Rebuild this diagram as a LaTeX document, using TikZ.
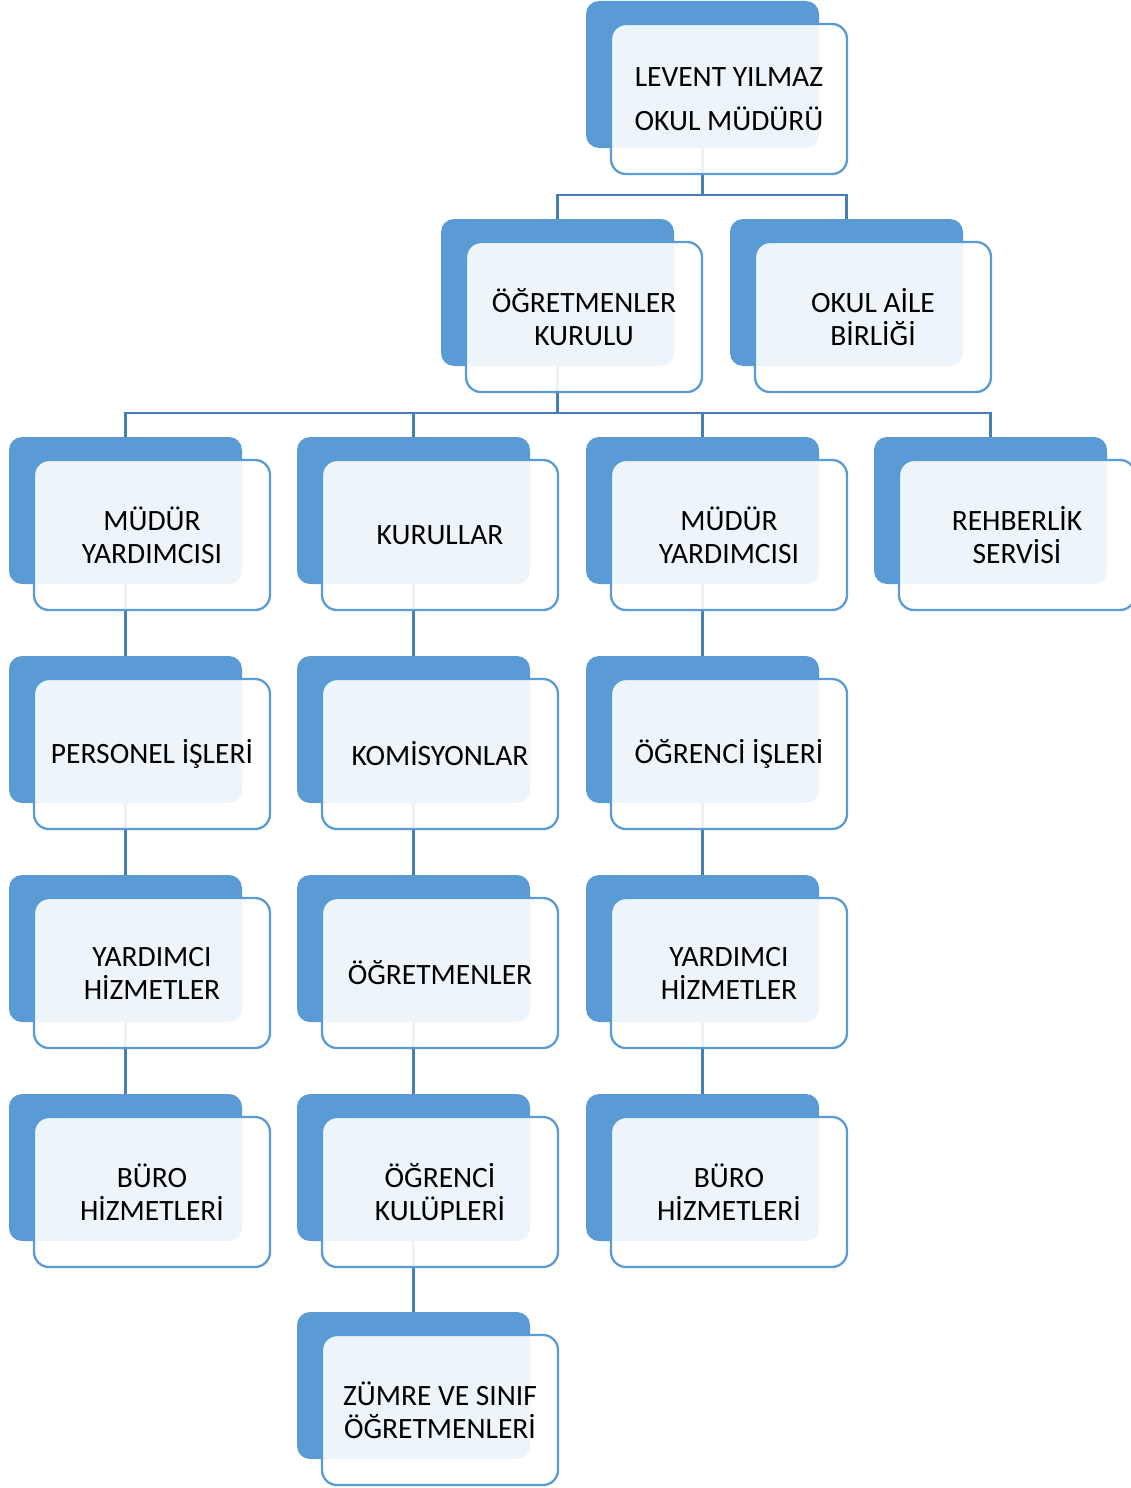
\documentclass[tikz,border=0pt]{standalone}
\usepackage{fontspec}
\setmainfont{Carlito}
\definecolor{accent}{RGB}{91,155,213}
\definecolor{connc}{RGB}{71,126,184}
\tikzset{
  bluebox/.style={rectangle, rounded corners=13pt, fill=accent, draw=none,
    minimum width=233pt, minimum height=147pt, inner sep=0pt, outer sep=0pt, anchor=north west},
  frontbox/.style={rectangle, rounded corners=15pt, fill=white, fill opacity=0.9, text opacity=1,
    draw=accent, draw opacity=1, line width=2.3pt,
    minimum width=236pt, minimum height=150pt, inner sep=0pt, outer sep=0pt, anchor=north west,
    align=center, font=\fontsize{29.5}{33}\selectfont, text=black},
  conn/.style={draw=connc, line width=2.4pt}
}
\begin{document}
\begin{tikzpicture}[x=1pt,y=1pt]
\useasboundingbox (0,0) rectangle (1131,-1488);
\def\entries{top/586/1/{LEVENT YILMAZ\\[11pt]OKUL MÜDÜRÜ},
  kur/441/219/{ÖĞRETMENLER\\KURULU},
  aile/730/219/{OKUL AİLE\\BİRLİĞİ},
  myA/9/437/{MÜDÜR\\YARDIMCISI},
  kurl/297/437/{KURULLAR},
  myB/586/437/{MÜDÜR\\YARDIMCISI},
  reh/874/437/{REHBERLİK\\SERVİSİ},
  pers/9/656/{PERSONEL İŞLERİ},
  kom/297/656/{KOMİSYONLAR},
  ogris/586/656/{ÖĞRENCİ İŞLERİ},
  yhA/9/875/{YARDIMCI\\HİZMETLER},
  ogrt/297/875/{ÖĞRETMENLER},
  yhB/586/875/{YARDIMCI\\HİZMETLER},
  buroA/9/1094/{BÜRO\\HİZMETLERİ},
  kulup/297/1094/{ÖĞRENCİ\\KULÜPLERİ},
  buroB/586/1094/{BÜRO\\HİZMETLERİ},
  zumre/297/1312/{ZÜMRE VE SINIF\\ÖĞRETMENLERİ}}
% back (blue) boxes
\foreach \n/\x/\y/\t in \entries {
  \node[bluebox] (b\n) at (\x,-\y) {};
}
% connectors
\coordinate (j1) at (702.5,-195);
\coordinate (j2) at (557.5,-413);
\draw[conn] (btop.south) -- (j1);
\draw[conn] (bkur.north) |- (j1) -| (baile.north);
\draw[conn] (bkur.south) -- (j2);
\draw[conn] (bmyA.north) |- (breh.north |- j2) -- (breh.north);
\draw[conn] (bkurl.north) -- (bkurl.north |- j2);
\draw[conn] (bmyB.north) -- (bmyB.north |- j2);
\draw[conn] (bmyA.south) -- (bpers.north);
\draw[conn] (bpers.south) -- (byhA.north);
\draw[conn] (byhA.south) -- (bburoA.north);
\draw[conn] (bkurl.south) -- (bkom.north);
\draw[conn] (bkom.south) -- (bogrt.north);
\draw[conn] (bogrt.south) -- (bkulup.north);
\draw[conn] (bkulup.south) -- (bzumre.north);
\draw[conn] (bmyB.south) -- (bogris.north);
\draw[conn] (bogris.south) -- (byhB.north);
\draw[conn] (byhB.south) -- (bburoB.north);
% front boxes
\foreach \n/\x/\y/\t in \entries {
  \node[frontbox] (f\n) at ([shift={(25pt,-23pt)}]b\n.north west) {\t};
}
\end{tikzpicture}
\end{document}
